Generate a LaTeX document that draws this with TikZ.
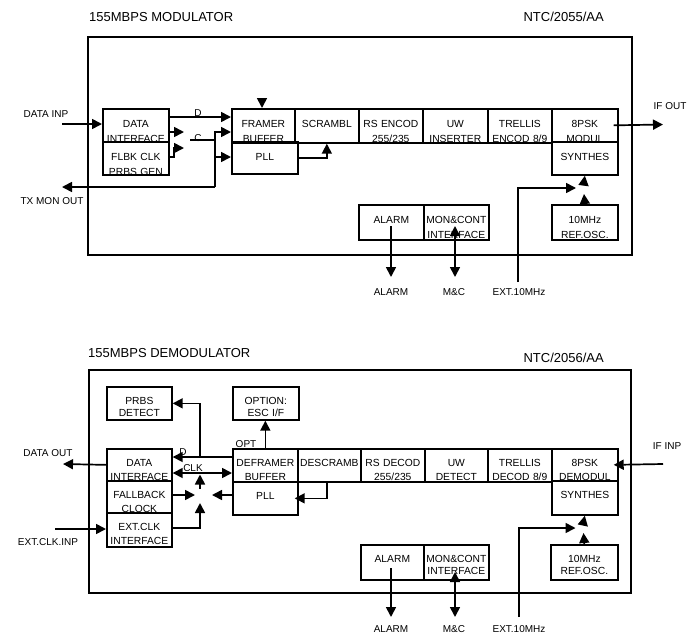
\documentclass[tikz,border=0pt]{standalone}
\usepackage{fontspec}
\setmainfont{Liberation Sans}
\usetikzlibrary{arrows.meta}
\def\blkth{18.5}
\newcommand{\mkblk}[7]{\node[#1,text width=#5pt,text height=\blkth pt,text depth={#6-\blkth}] (#2) at (#3,#4) {#7};}
\tikzset{
  blk/.style={draw,line width=1.7pt,inner sep=0pt,align=center,anchor=north west,font=\fontsize{10.3}{15}\selectfont},
  blkb/.style={blk,font=\fontsize{10.3}{14}\selectfont},
  tight/.style={blk,font=\fontsize{10.3}{12}\selectfont},
  lbl/.style={font=\fontsize{10}{12}\selectfont,inner sep=0pt},
  ttl/.style={font=\fontsize{13}{15}\selectfont,inner sep=0pt},
  ln/.style={line width=1.7pt},
  arr/.style={line width=1.7pt,-{Triangle[length=10pt,width=10pt]}},
  darr/.style={line width=1.7pt,{Triangle[length=10pt,width=10pt]}-{Triangle[length=10pt,width=10pt]}},
  outer/.style={draw,line width=1.7pt}
}
\begin{document}
\begin{tikzpicture}[x=1pt,y=-1pt]
\useasboundingbox (0,0) rectangle (687,637);
% ================= MODULATOR =================
\node[ttl,anchor=west] (t1) at (89,17) {155MBPS MODULATOR};
\node[ttl,anchor=east] (c1) at (604,17) {NTC/2055/AA};
\draw[outer] (88,37) rectangle (632,255);
\def\blkth{18.5}
\mkblk{blk}{di1}{102}{108}{66}{33}{DATA\\INTERFACE}
\mkblk{blk}{fl1}{102}{141}{66}{33}{FLBK CLK\\PRBS GEN}
\mkblk{blk}{fr1}{231}{108}{63}{34}{FRAMER\\BUFFER}
\mkblk{blk}{pll1}{231}{141}{66}{32}{PLL}
\mkblk{blk}{sc1}{294}{108}{64}{34}{SCRAMBL}
\mkblk{blk}{rs1}{358}{108}{64}{34}{RS ENCOD\\255/235}
\mkblk{blk}{uw1}{422}{108}{65}{34}{UW\\INSERTER}
\mkblk{blk}{tr1}{487}{108}{64}{34}{TRELLIS\\ENCOD 8/9}
\mkblk{blk}{m1}{551}{108}{66}{33}{8PSK\\MODUL}
\mkblk{blk}{sy1}{551}{141}{66}{33}{SYNTHES}
\mkblk{blk}{al1}{358}{204}{65}{35}{ALARM}
\mkblk{blk}{mc1}{423}{204}{65}{35}{MON\&CONT\\INTERFACE}
\mkblk{blk}{ro1}{551}{204}{66}{35}{10MHz\\REF.OSC.}
% labels
\node[lbl] (l1) at (46,114) {DATA INP};
\node[lbl] (l2) at (52,201) {TX MON OUT};
\node[lbl] (l3) at (670,106) {IF OUT};
\node[lbl] (l4) at (391,292) {ALARM};
\node[lbl] (l5) at (454,292) {M\&C};
\node[lbl] (l6) at (519,292) {EXT.10MHz};
\node[lbl] (l7) at (198,113) {D};
\node[lbl] (l8) at (198,138) {C};
% connectors
\coordinate (dinp) at (62,124);
\coordinate (txmon) at (62,187);
\coordinate (swA) at (184,132);
\coordinate (swB) at (184,148);
\coordinate (cst) at (190,140);
\coordinate (cbus) at (215,140);
\coordinate (frtop) at (262,98);
\coordinate (ifout) at (663,124.5);
\coordinate (ext1) at (518,282);
\coordinate (sw1) at (584,188);
\coordinate (alo1) at (391,277);
\coordinate (mco1) at (455,277);
\draw[arr] (dinp) -- (dinp -| di1.west);
\draw[arr] (di1.east |- 0,117) -- (fr1.west |- 0,117);
\draw[arr] (di1.east |- swA) -- (swA);
\draw[arr] (fl1.east |- 0,157) -- (174,157) -- (174,148) -- (swB);
\draw[ln] (cst) -- (cbus);
\draw[ln] (cbus |- 0,131) -- (cbus |- txmon);
\draw[arr] (cbus |- 0,132) -- (fr1.west |- 0,132);
\draw[arr] (cbus |- 0,157) -- (pll1.west |- 0,157);
\draw[arr] (cbus |- txmon) -- (txmon);
\draw[arr] (frtop) -- (frtop |- fr1.north);
\draw[arr] (pll1.east) -| (sc1.south);
\draw[arr] ([xshift=-5pt]m1.east) -- (ifout);
\draw[arr] (ext1) |- ([xshift=-8pt]sw1);
\draw[arr] (ro1.north) -- ([yshift=-6pt]sw1);
\draw[arr] ([yshift=6pt]sw1) -- (sy1.south);
\draw[arr] (alo1 |- 0,226) -- (alo1);
\draw[darr] (mco1 |- 0,226) -- (mco1);
% ================= DEMODULATOR =================
\node[ttl,anchor=west] (t2) at (88,353) {155MBPS DEMODULATOR};
\node[ttl,anchor=east] (c2) at (604,358) {NTC/2056/AA};
\draw[outer] (89,370) rectangle (631,593);
\def\blkth{17.7}
\mkblk{tight}{pr2}{106}{386}{65}{33}{PRBS\\DETECT}
\mkblk{tight}{op2}{232}{386}{66}{33}{OPTION:\\ESC I/F}
\mkblk{blkb}{di2}{106}{448}{65}{32}{DATA\\INTERFACE}
\mkblk{blkb}{fb2}{106}{480}{65}{32}{FALLBACK\\CLOCK}
\mkblk{blkb}{ec2}{106}{512}{65}{34}{EXT.CLK\\INTERFACE}
\mkblk{blkb}{df2}{232}{448}{65}{33}{DEFRAMER\\BUFFER}
\mkblk{blkb}{pll2}{232}{481}{65}{33}{PLL}
\mkblk{blkb}{ds2}{297}{448}{63}{33}{DESCRAMB}
\mkblk{blkb}{rs2}{360}{448}{64}{33}{RS DECOD\\255/235}
\mkblk{blkb}{uw2}{424}{448}{63}{33}{UW\\DETECT}
\mkblk{blkb}{tr2}{487}{448}{64}{33}{TRELLIS\\DECOD 8/9}
\mkblk{blkb}{m2}{551}{448}{66}{32}{8PSK\\DEMODUL}
\mkblk{blkb}{sy2}{551}{480}{66}{34}{SYNTHES}
\mkblk{tight}{al2}{360}{544}{63}{35}{ALARM}
\mkblk{tight}{mc2}{423}{544}{65}{35}{MON\&CONT\\INTERFACE}
\mkblk{tight}{ro2}{550}{544}{67}{35}{10MHz\\REF.OSC.}
% labels
\node[lbl] (k1) at (48,453) {DATA OUT};
\node[lbl] (k2) at (48,542) {EXT.CLK.INP};
\node[lbl] (k3) at (667,446) {IF INP};
\node[lbl] (k4) at (391,629) {ALARM};
\node[lbl] (k5) at (454,629) {M\&C};
\node[lbl] (k6) at (519,629) {EXT.10MHz};
\node[lbl] (k7) at (183,452) {D};
\node[lbl] (k8) at (193,468) {CLK};
\node[lbl] (k9) at (246,444) {OPT};
% connectors
\coordinate (dout) at (63,464);
\coordinate (prb) at (200,457);
\coordinate (jn) at (200,495);
\coordinate (eci) at (55,529);
\coordinate (ifin) at (663,464);
\coordinate (ext2) at (519,617);
\coordinate (sw2) at (583.5,528);
\coordinate (alo2) at (391,617);
\coordinate (mco2) at (455,617);
\draw[arr] (di2.west) -- (dout);
\draw[arr] (df2.west |- 0,457) -- (di2.east |- 0,457);
\draw[arr] (prb) |- (pr2.east);
\draw[darr] (di2.east |- 0,473) -- (df2.west |- 0,473);
\draw[arr] ([yshift=6pt]jn) -- (jn |- 0,474.5);
\draw[arr] (fb2.east |- jn) -- ([xshift=-5pt]jn);
\draw[arr] (pll2.west |- jn) -- ([xshift=12pt]jn);
\draw[arr] (ec2.east |- 0,528) -| ([yshift=-8pt]jn);
\draw[arr] (eci) -- (eci -| ec2.west);
\draw[arr] (df2.north) -- (df2.north |- op2.south);
\draw[arr] (ds2.south -| 327,0) |- ([xshift=-4pt]pll2.east);
\draw[arr] (ifin) -- ([xshift=-5pt]m2.east);
\draw[arr] (ext2) |- ([xshift=-8pt]sw2);
\draw[arr] (ro2.north) -- ([yshift=-5pt]sw2);
\draw[arr] ([yshift=6pt]sw2) -- (sy2.south);
\draw[arr] (alo2 |- 0,568) -- (alo2);
\draw[darr] (mco2 |- 0,572) -- (mco2);
\end{tikzpicture}
\end{document}
